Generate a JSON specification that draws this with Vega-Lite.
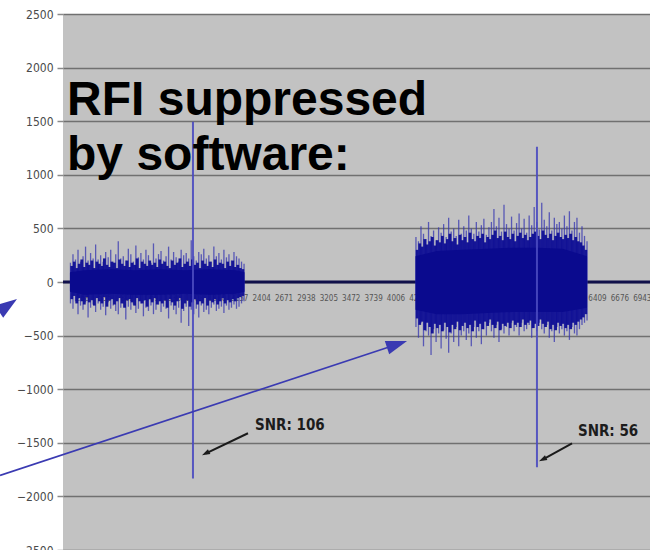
{
  "$schema": "https://vega.github.io/schema/vega-lite/v6.json",
  "autosize": {"type": "none"},
  "padding": {"left": 63, "top": 14, "right": 0, "bottom": 0},
  "width": 587,
  "height": 536,
  "background": "white",
  "config": {"view": {"fill": "#c2c2c2", "stroke": null}},
  "datasets": {
    "noise": [
      {"t":130,"v":-200,"v2":180},{"t":160,"v":-250,"v2":260},{"t":190,"v":-180,"v2":210},{"t":220,"v":-300,"v2":300},{"t":250,"v":-220,"v2":190},
      {"t":280,"v":-260,"v2":240},{"t":310,"v":-190,"v2":330},{"t":340,"v":-330,"v2":200},{"t":370,"v":-240,"v2":270},{"t":400,"v":-210,"v2":220},
      {"t":430,"v":-280,"v2":350},{"t":460,"v":-200,"v2":210},{"t":490,"v":-260,"v2":250},{"t":520,"v":-230,"v2":190},{"t":550,"v":-310,"v2":280},
      {"t":580,"v":-190,"v2":230},{"t":610,"v":-250,"v2":300},{"t":640,"v":-220,"v2":180},{"t":670,"v":-270,"v2":260},{"t":700,"v":-300,"v2":380},
      {"t":730,"v":-240,"v2":220},{"t":760,"v":-200,"v2":240},{"t":790,"v":-350,"v2":200},{"t":820,"v":-230,"v2":310},{"t":850,"v":-260,"v2":260},
      {"t":880,"v":-210,"v2":190},{"t":910,"v":-290,"v2":340},{"t":940,"v":-250,"v2":230},{"t":970,"v":-200,"v2":270},{"t":1000,"v":-320,"v2":210},
      {"t":1030,"v":-240,"v2":300},{"t":1060,"v":-270,"v2":250},{"t":1090,"v":-220,"v2":180},{"t":1120,"v":-300,"v2":360},{"t":1150,"v":-260,"v2":220},
      {"t":1180,"v":-210,"v2":260},{"t":1210,"v":-280,"v2":290},{"t":1240,"v":-230,"v2":200},{"t":1270,"v":-250,"v2":240},{"t":1300,"v":-340,"v2":330},
      {"t":1330,"v":-220,"v2":210},{"t":1360,"v":-260,"v2":280},{"t":1390,"v":-300,"v2":230},{"t":1420,"v":-240,"v2":190},{"t":1450,"v":-380,"v2":300},
      {"t":1480,"v":-270,"v2":250},{"t":1510,"v":-230,"v2":270},{"t":1540,"v":-410,"v2":220},{"t":1570,"v":-260,"v2":390},{"t":1600,"v":-300,"v2":240},
      {"t":1630,"v":-250,"v2":200},{"t":1660,"v":-330,"v2":280},{"t":1690,"v":-220,"v2":260},{"t":1720,"v":-280,"v2":310},{"t":1750,"v":-260,"v2":220},
      {"t":1780,"v":-300,"v2":250},{"t":1810,"v":-240,"v2":190},{"t":1840,"v":-210,"v2":330},{"t":1870,"v":-270,"v2":240},{"t":1900,"v":-250,"v2":270},
      {"t":1930,"v":-230,"v2":210},{"t":1960,"v":-290,"v2":300},{"t":1990,"v":-220,"v2":230},{"t":2020,"v":-260,"v2":260},{"t":2050,"v":-240,"v2":200},
      {"t":2080,"v":-210,"v2":280},{"t":2110,"v":-250,"v2":240},{"t":2140,"v":-230,"v2":220},{"t":2170,"v":-200,"v2":190},{"t":2200,"v":-180,"v2":170},
      {"t":4250,"v":-420,"v2":420},{"t":4280,"v":-520,"v2":380},{"t":4310,"v":-380,"v2":520},{"t":4340,"v":-600,"v2":450},{"t":4370,"v":-460,"v2":400},
      {"t":4400,"v":-500,"v2":560},{"t":4430,"v":-680,"v2":430},{"t":4460,"v":-440,"v2":480},{"t":4490,"v":-560,"v2":390},{"t":4520,"v":-480,"v2":510},
      {"t":4550,"v":-620,"v2":460},{"t":4580,"v":-450,"v2":540},{"t":4610,"v":-530,"v2":420},{"t":4640,"v":-660,"v2":600},{"t":4670,"v":-480,"v2":470},
      {"t":4700,"v":-560,"v2":500},{"t":4730,"v":-420,"v2":430},{"t":4760,"v":-600,"v2":580},{"t":4790,"v":-500,"v2":450},{"t":4820,"v":-460,"v2":520},
      {"t":4850,"v":-540,"v2":480},{"t":4880,"v":-480,"v2":620},{"t":4910,"v":-600,"v2":500},{"t":4940,"v":-420,"v2":450},{"t":4970,"v":-520,"v2":560},
      {"t":5000,"v":-460,"v2":470},{"t":5030,"v":-580,"v2":530},{"t":5060,"v":-440,"v2":590},{"t":5090,"v":-500,"v2":440},{"t":5120,"v":-380,"v2":510},
      {"t":5150,"v":-460,"v2":560},{"t":5180,"v":-520,"v2":680},{"t":5210,"v":-400,"v2":520},{"t":5240,"v":-560,"v2":600},{"t":5270,"v":-440,"v2":470},
      {"t":5300,"v":-480,"v2":720},{"t":5330,"v":-420,"v2":540},{"t":5360,"v":-500,"v2":500},{"t":5390,"v":-380,"v2":610},{"t":5420,"v":-460,"v2":480},
      {"t":5450,"v":-420,"v2":550},{"t":5480,"v":-500,"v2":640},{"t":5510,"v":-380,"v2":500},{"t":5540,"v":-460,"v2":590},{"t":5570,"v":-440,"v2":460},
      {"t":5600,"v":-400,"v2":620},{"t":5630,"v":-520,"v2":530},{"t":5660,"v":-430,"v2":700},{"t":5690,"v":-460,"v2":560},{"t":5720,"v":-380,"v2":490},
      {"t":5750,"v":-440,"v2":740},{"t":5780,"v":-480,"v2":580},{"t":5810,"v":-400,"v2":520},{"t":5840,"v":-520,"v2":650},{"t":5870,"v":-460,"v2":480},
      {"t":5900,"v":-560,"v2":600},{"t":5930,"v":-420,"v2":540},{"t":5960,"v":-480,"v2":560},{"t":5990,"v":-440,"v2":500},{"t":6020,"v":-500,"v2":620},
      {"t":6050,"v":-460,"v2":520},{"t":6080,"v":-540,"v2":660},{"t":6110,"v":-420,"v2":480},{"t":6140,"v":-480,"v2":560},{"t":6170,"v":-500,"v2":600},
      {"t":6200,"v":-440,"v2":460},{"t":6230,"v":-400,"v2":520},{"t":6260,"v":-380,"v2":430},{"t":6290,"v":-360,"v2":380}
    ],
    "mid": [
      {"t":145,"v":-160,"v2":150},{"t":175,"v":-130,"v2":190},{"t":205,"v":-200,"v2":130},{"t":235,"v":-150,"v2":170},{"t":265,"v":-180,"v2":210},
      {"t":295,"v":-210,"v2":140},{"t":325,"v":-140,"v2":180},{"t":355,"v":-190,"v2":160},{"t":385,"v":-170,"v2":200},{"t":415,"v":-220,"v2":130},
      {"t":445,"v":-150,"v2":190},{"t":475,"v":-180,"v2":170},{"t":505,"v":-200,"v2":150},{"t":535,"v":-140,"v2":220},{"t":565,"v":-230,"v2":160},
      {"t":595,"v":-170,"v2":140},{"t":625,"v":-160,"v2":190},{"t":655,"v":-210,"v2":180},{"t":685,"v":-180,"v2":130},{"t":715,"v":-150,"v2":210},
      {"t":745,"v":-200,"v2":170},{"t":775,"v":-240,"v2":150},{"t":805,"v":-170,"v2":200},{"t":835,"v":-160,"v2":140},{"t":865,"v":-190,"v2":180},
      {"t":895,"v":-220,"v2":160},{"t":925,"v":-150,"v2":220},{"t":955,"v":-180,"v2":130},{"t":985,"v":-200,"v2":190},{"t":1015,"v":-170,"v2":170},
      {"t":1045,"v":-230,"v2":150},{"t":1075,"v":-160,"v2":200},{"t":1105,"v":-190,"v2":160},{"t":1135,"v":-150,"v2":180},{"t":1165,"v":-210,"v2":140},
      {"t":1195,"v":-180,"v2":210},{"t":1225,"v":-200,"v2":170},{"t":1255,"v":-170,"v2":190},{"t":1285,"v":-240,"v2":150},{"t":1315,"v":-160,"v2":130},
      {"t":1345,"v":-190,"v2":200},{"t":1375,"v":-220,"v2":160},{"t":1405,"v":-180,"v2":180},{"t":1435,"v":-150,"v2":220},{"t":1465,"v":-250,"v2":140},
      {"t":1495,"v":-200,"v2":170},{"t":1525,"v":-170,"v2":190},{"t":1555,"v":-230,"v2":150},{"t":1585,"v":-190,"v2":210},{"t":1615,"v":-160,"v2":160},
      {"t":1645,"v":-210,"v2":180},{"t":1675,"v":-180,"v2":130},{"t":1705,"v":-200,"v2":200},{"t":1735,"v":-150,"v2":170},{"t":1765,"v":-220,"v2":150},
      {"t":1795,"v":-170,"v2":190},{"t":1825,"v":-190,"v2":140},{"t":1855,"v":-160,"v2":210},{"t":1885,"v":-210,"v2":160},{"t":1915,"v":-180,"v2":180},
      {"t":1945,"v":-150,"v2":170},{"t":1975,"v":-200,"v2":130},{"t":2005,"v":-170,"v2":190},{"t":2035,"v":-190,"v2":150},{"t":2065,"v":-160,"v2":200},
      {"t":2095,"v":-180,"v2":140},{"t":2125,"v":-150,"v2":160},{"t":2155,"v":-140,"v2":130},{"t":2185,"v":-130,"v2":120},
      {"t":4265,"v":-340,"v2":300},{"t":4295,"v":-400,"v2":360},{"t":4325,"v":-370,"v2":330},{"t":4355,"v":-450,"v2":400},{"t":4385,"v":-380,"v2":350},
      {"t":4415,"v":-420,"v2":380},{"t":4445,"v":-480,"v2":420},{"t":4475,"v":-390,"v2":340},{"t":4505,"v":-430,"v2":390},{"t":4535,"v":-400,"v2":370},
      {"t":4565,"v":-460,"v2":430},{"t":4595,"v":-380,"v2":360},{"t":4625,"v":-420,"v2":400},{"t":4655,"v":-470,"v2":450},{"t":4685,"v":-400,"v2":380},
      {"t":4715,"v":-440,"v2":410},{"t":4745,"v":-370,"v2":350},{"t":4775,"v":-450,"v2":440},{"t":4805,"v":-410,"v2":390},{"t":4835,"v":-380,"v2":420},
      {"t":4865,"v":-430,"v2":370},{"t":4895,"v":-400,"v2":460},{"t":4925,"v":-460,"v2":400},{"t":4955,"v":-360,"v2":380},{"t":4985,"v":-420,"v2":430},
      {"t":5015,"v":-390,"v2":410},{"t":5045,"v":-440,"v2":450},{"t":5075,"v":-370,"v2":370},{"t":5105,"v":-410,"v2":420},{"t":5135,"v":-350,"v2":400},
      {"t":5165,"v":-400,"v2":440},{"t":5195,"v":-430,"v2":480},{"t":5225,"v":-370,"v2":410},{"t":5255,"v":-450,"v2":430},{"t":5285,"v":-390,"v2":390},
      {"t":5315,"v":-410,"v2":470},{"t":5345,"v":-380,"v2":420},{"t":5375,"v":-430,"v2":400},{"t":5405,"v":-360,"v2":450},{"t":5435,"v":-400,"v2":380},
      {"t":5465,"v":-380,"v2":430},{"t":5495,"v":-420,"v2":460},{"t":5525,"v":-350,"v2":410},{"t":5555,"v":-400,"v2":440},{"t":5585,"v":-380,"v2":390},
      {"t":5615,"v":-360,"v2":420},{"t":5645,"v":-430,"v2":450},{"t":5675,"v":-390,"v2":470},{"t":5705,"v":-410,"v2":430},{"t":5735,"v":-350,"v2":400},
      {"t":5765,"v":-390,"v2":480},{"t":5795,"v":-420,"v2":440},{"t":5825,"v":-370,"v2":410},{"t":5855,"v":-440,"v2":450},{"t":5885,"v":-400,"v2":390},
      {"t":5915,"v":-450,"v2":430},{"t":5945,"v":-380,"v2":460},{"t":5975,"v":-410,"v2":420},{"t":6005,"v":-390,"v2":400},{"t":6035,"v":-430,"v2":440},
      {"t":6065,"v":-400,"v2":410},{"t":6095,"v":-440,"v2":450},{"t":6125,"v":-380,"v2":390},{"t":6155,"v":-400,"v2":420},{"t":6185,"v":-370,"v2":380},
      {"t":6215,"v":-350,"v2":370},{"t":6245,"v":-330,"v2":340},{"t":6275,"v":-300,"v2":300}
    ],
    "core": [
      {"seg":"a","t":124,"v":-90,"v2":90},{"seg":"a","t":300,"v":-120,"v2":110},{"seg":"a","t":600,"v":-110,"v2":120},{"seg":"a","t":900,"v":-120,"v2":110},
      {"seg":"a","t":1200,"v":-120,"v2":120},{"seg":"a","t":1500,"v":-110,"v2":110},{"seg":"a","t":1800,"v":-120,"v2":120},{"seg":"a","t":2100,"v":-110,"v2":110},
      {"seg":"a","t":2205,"v":-90,"v2":90},
      {"seg":"b","t":4245,"v":-260,"v2":240},{"seg":"b","t":4500,"v":-300,"v2":290},{"seg":"b","t":4800,"v":-300,"v2":300},{"seg":"b","t":5100,"v":-290,"v2":310},
      {"seg":"b","t":5400,"v":-280,"v2":320},{"seg":"b","t":5700,"v":-280,"v2":320},{"seg":"b","t":6000,"v":-280,"v2":310},{"seg":"b","t":6290,"v":-240,"v2":240}
    ],
    "spikes": [
      {"t":1591,"v":-1832,"v2":1495},
      {"t":5693,"v":-1729,"v2":1262}
    ],
    "zero": [{"t":41,"t2":7041,"v":0}],
    "title": [
      {"t":89,"v":1561,"label":"RFI suppressed"},
      {"t":89,"v":1047,"label":"by software:"}
    ],
    "snr": [
      {"t":2331,"v":-1383,"label":"SNR: 106"},
      {"t":6182,"v":-1439,"label":"SNR: 56"}
    ],
    "blackArrows": [
      {"t":2247,"v":-1411,"t2":1746,"v2":-1598},
      {"t":6111,"v":-1505,"t2":5765,"v2":-1654}
    ],
    "blackHeads": [
      {"t":1746,"v":-1598},
      {"t":5765,"v":-1654}
    ],
    "blueLine": [{"t":-710,"v":-1804,"t2":4011,"v2":-585}],
    "blueHead": [{"t":4011,"v":-585}],
    "blueHeadLeft": [{"t":-627,"v":-224}]
  },
  "encoding": {
    "x": {
      "field": "t", "type": "quantitative",
      "scale": {"domain": [41, 7041], "nice": false, "zero": false},
      "axis": {
        "title": null, "orient": "bottom", "offset": -268,
        "values": [268,535,802,1069,1336,1603,1870,2137,2404,2671,2938,3205,3472,3739,4006,4273,4540,4807,5074,5341,5608,5875,6142,6409,6676,6943],
        "format": "d", "ticks": false, "domain": false, "grid": false,
        "labelFont": "'DejaVu Sans Condensed', 'Liberation Sans Narrow', sans-serif",
        "labelFontSize": 8, "labelColor": "#555555", "labelPadding": 12,
        "labelOverlap": false, "labelBound": false, "labelFlush": false, "zindex": 0
      }
    },
    "y": {
      "field": "v", "type": "quantitative",
      "scale": {"domain": [-2500, 2500], "nice": false},
      "axis": {
        "title": null, "values": [-2500,-2000,-1500,-1000,-500,0,500,1000,1500,2000,2500],
        "format": "d", "domain": false, "tickSize": 6, "tickColor": "#8a8a8a", "tickWidth": 1.5,
        "labelFont": "'DejaVu Sans Condensed', 'Liberation Sans Narrow', sans-serif",
        "labelFontSize": 12, "labelColor": "#4a4a4a", "labelPadding": 4,
        "grid": true, "gridColor": "#707070", "gridWidth": 1.6, "gridOpacity": 1, "zindex": 0
      }
    }
  },
  "layer": [
    {
      "data": {"name": "zero"},
      "mark": {"type": "rule", "color": "#10104a", "strokeWidth": 3},
      "encoding": {"x2": {"field": "t2"}}
    },
    {
      "data": {"name": "noise"},
      "mark": {"type": "rule", "color": "#3434b0", "strokeWidth": 1.3, "opacity": 0.75},
      "encoding": {"y2": {"field": "v2"}}
    },
    {
      "data": {"name": "mid"},
      "mark": {"type": "rule", "color": "#0e0e94", "strokeWidth": 2.8, "opacity": 0.95},
      "encoding": {"y2": {"field": "v2"}}
    },
    {
      "data": {"name": "core"},
      "mark": {"type": "area", "color": "#0a0a8e", "opacity": 1},
      "encoding": {"y2": {"field": "v2"}, "detail": {"field": "seg"}}
    },
    {
      "data": {"name": "spikes"},
      "mark": {"type": "rule", "color": "#4a4ac0", "strokeWidth": 2, "opacity": 0.9},
      "encoding": {"y2": {"field": "v2"}}
    },
    {
      "data": {"name": "title"},
      "mark": {"type": "text", "font": "Liberation Sans", "fontSize": 48, "fontWeight": "bold", "color": "#000000", "align": "left", "baseline": "alphabetic"},
      "encoding": {"text": {"field": "label"}}
    },
    {
      "data": {"name": "snr"},
      "mark": {"type": "text", "font": "'DejaVu Sans Condensed', 'Liberation Sans Narrow', sans-serif", "fontSize": 15, "fontWeight": "bold", "color": "#1c1c1c", "align": "left", "baseline": "alphabetic"},
      "encoding": {"text": {"field": "label"}}
    },
    {
      "data": {"name": "blackArrows"},
      "mark": {"type": "rule", "color": "#1a1a1a", "strokeWidth": 2},
      "encoding": {"x2": {"field": "t2"}, "y2": {"field": "v2"}}
    },
    {
      "data": {"name": "blackHeads"},
      "mark": {"type": "point", "shape": "M0,-1L0.6,0.8L-0.6,0.8Z", "filled": true, "color": "#1a1a1a", "size": 80, "angle": 243, "opacity": 1}
    },
    {
      "data": {"name": "blueLine"},
      "mark": {"type": "rule", "color": "#3a3ab2", "strokeWidth": 1.6},
      "encoding": {"x2": {"field": "t2"}, "y2": {"field": "v2"}}
    },
    {
      "data": {"name": "blueHead"},
      "mark": {"type": "point", "shape": "M0,-1L0.6,0.8L-0.6,0.8Z", "filled": true, "color": "#3a3ab2", "size": 550, "angle": 72, "opacity": 1}
    },
    {
      "data": {"name": "blueHeadLeft"},
      "mark": {"type": "point", "shape": "M0,-1L0.6,0.8L-0.6,0.8Z", "filled": true, "color": "#3a3ab2", "size": 600, "angle": 55, "opacity": 1}
    }
  ]
}
